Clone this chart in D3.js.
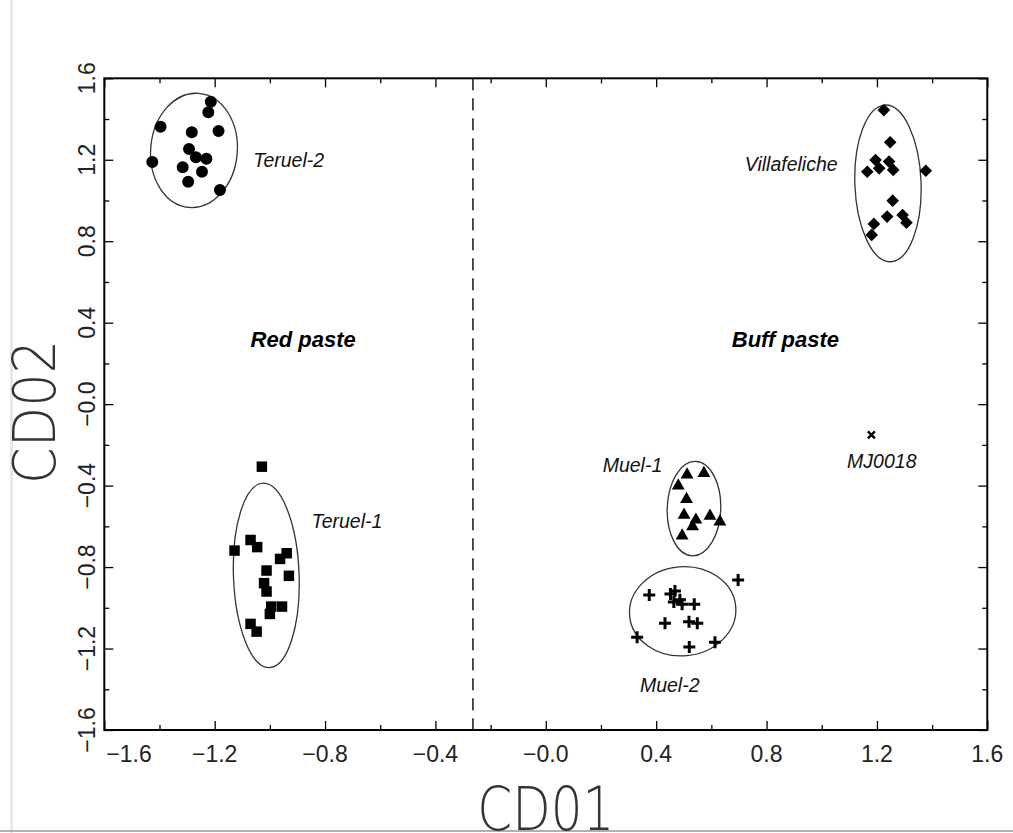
<!DOCTYPE html>
<html>
<head>
<meta charset="utf-8">
<script src="https://cdn.jsdelivr.net/npm/d3@7"></script>
<style>
  html, body { margin: 0; padding: 0; background: #fff; }
  svg { display: block; }
</style>
</head>
<body>
<svg id="chart"></svg>
<script>
// discriminant scores (CD01, CD02)
const teruel2 = [
  [-1.214, 1.485], [-1.223, 1.433], [-1.396, 1.362], [-1.283, 1.335], [-1.186, 1.341],
  [-1.293, 1.253], [-1.268, 1.212], [-1.230, 1.205], [-1.426, 1.189], [-1.316, 1.163],
  [-1.246, 1.141], [-1.296, 1.092], [-1.181, 1.052]
];
const teruel1 = [
  [-1.029, -0.307], [-1.070, -0.667], [-1.046, -0.702], [-1.128, -0.719], [-0.939, -0.732],
  [-0.963, -0.760], [-1.012, -0.817], [-0.931, -0.843], [-1.021, -0.879], [-1.012, -0.920],
  [-0.995, -0.994], [-0.956, -0.994], [-1.000, -1.030], [-1.070, -1.079], [-1.048, -1.117]
];
const muel1 = [
  [0.512, -0.347], [0.573, -0.339], [0.480, -0.401], [0.510, -0.467], [0.501, -0.544],
  [0.544, -0.568], [0.595, -0.549], [0.631, -0.577], [0.532, -0.601], [0.494, -0.646]
];
const muel2 = [
  [0.697, -0.863], [0.375, -0.937], [0.452, -0.932], [0.468, -0.917], [0.464, -0.972],
  [0.486, -0.961], [0.494, -0.982], [0.538, -0.982], [0.432, -1.076], [0.519, -1.068],
  [0.549, -1.076], [0.331, -1.144], [0.520, -1.193], [0.613, -1.169]
];
const villafeliche = [
  [1.225, 1.444], [1.248, 1.286], [1.195, 1.199], [1.208, 1.158], [1.244, 1.191],
  [1.259, 1.150], [1.165, 1.141], [1.377, 1.146], [1.257, 0.999], [1.237, 0.921],
  [1.293, 0.929], [1.307, 0.891], [1.189, 0.885], [1.181, 0.831]
];
const mj0018 = [[1.180, -0.151]];

// group ellipses: centre, semi-axes (data units), tilt in degrees
const ellipseNames = ["Teruel-2", "Teruel-1", "Muel-1", "Muel-2", "Villafeliche"];
const ellipseCx = [-1.275, -1.013, 0.537, 0.496, 1.240];
const ellipseCy = [1.246, -0.841, -0.513, -1.017, 1.084];
const ellipseRx = [0.157, 0.119, 0.097, 0.193, 0.120];
const ellipseRy = [0.281, 0.453, 0.232, 0.219, 0.385];
const ellipseTilt = [5, -2, 2, -5, -2];

const tickValues = [-1.6, -1.2, -0.8, -0.4, 0, 0.4, 0.8, 1.2, 1.6];
const tickLabels = ["\u22121.6", "\u22121.2", "\u22120.8", "\u22120.4", "\u22120.0", "0.4", "0.8", "1.2", "1.6"];
const minorTicks = [-1.4, -1.0, -0.6, -0.2, 0.2, 0.6, 1.0, 1.4];
const divider = -0.264;

// text annotations: [text, x, y] in data units (start anchor, baseline)
const groupLabels = [
  ["Teruel-2", -1.060, 1.165],
  ["Teruel-1", -0.849, -0.608],
  ["Muel-1", 0.206, -0.333],
  ["Muel-2", 0.341, -1.413],
  ["Villafeliche", 0.721, 1.145],
  ["MJ0018", 1.092, -0.313]
];
const pasteLabels = [
  ["Red paste", -1.070, 0.281],
  ["Buff paste", 0.674, 0.281]
];

const W = 1013, H = 833;
const svg = d3.select("#chart").attr("width", W).attr("height", H);

// scan artefacts: page edges
svg.append("rect").attr("x", 10).attr("y", 0).attr("width", 3).attr("height", H).attr("fill", "#e8e8e8");
svg.append("rect").attr("x", 0).attr("y", 830).attr("width", W).attr("height", 2).attr("fill", "#b0b0b0");

const x = d3.scaleLinear().domain([-1.6, 1.6]).range([104.3, 987.3]);
const y = d3.scaleLinear().domain([-1.6, 1.6]).range([730, 78.3]);
const [x0, x1] = x.range();
const [y0, y1] = y.range();

// ticks on all four sides, pointing inward
function ticks(axisFn, values, len, transform) {
  const g = svg.append("g").attr("transform", transform)
    .call(axisFn.tickValues(values).tickSizeInner(-len).tickSizeOuter(0).tickFormat(""));
  g.select(".domain").remove();
  g.selectAll("line").attr("stroke", "#000").attr("stroke-width", 1.3);
}
ticks(d3.axisBottom(x), tickValues, 9, `translate(0,${y0})`);
ticks(d3.axisBottom(x), minorTicks, 5, `translate(0,${y0})`);
ticks(d3.axisTop(x), tickValues, 9, `translate(0,${y1})`);
ticks(d3.axisTop(x), minorTicks, 5, `translate(0,${y1})`);
ticks(d3.axisLeft(y), tickValues, 9, `translate(${x0},0)`);
ticks(d3.axisLeft(y), minorTicks, 5, `translate(${x0},0)`);
ticks(d3.axisRight(y), tickValues, 9, `translate(${x1},0)`);
ticks(d3.axisRight(y), minorTicks, 5, `translate(${x1},0)`);

// frame
svg.append("rect")
  .attr("x", x0).attr("y", y1).attr("width", x1 - x0).attr("height", y0 - y1)
  .attr("fill", "none").attr("stroke", "#000").attr("stroke-width", 2);

const tickFont = "'Liberation Sans', Arial, sans-serif";

// x tick labels (first one starts at the frame corner)
svg.selectAll(".xlab").data(tickValues).enter().append("text")
  .attr("class", "xlab")
  .attr("x", (d, i) => i === 0 ? x0 + 2 : x(d))
  .attr("y", 762)
  .attr("text-anchor", (d, i) => i === 0 ? "start" : "middle")
  .style("font-family", tickFont).style("font-size", "23px").style("fill", "#222")
  .text((d, i) => tickLabels[i]);

// y tick labels, rotated
svg.selectAll(".ylab").data(tickValues).enter().append("text")
  .attr("class", "ylab")
  .attr("transform", d => `translate(95,${y(d)}) rotate(-90)`)
  .attr("text-anchor", "middle")
  .style("font-family", tickFont).style("font-size", "23px").style("fill", "#222")
  .text((d, i) => tickLabels[i]);

// axis titles
const titleFont = "'DejaVu Sans', sans-serif";
svg.append("text")
  .attr("x", (x0 + x1) / 2).attr("y", 830)
  .attr("text-anchor", "middle")
  .attr("textLength", 137).attr("lengthAdjust", "spacingAndGlyphs")
  .style("font-family", titleFont).style("font-weight", 200).style("font-size", "60px").style("fill", "#333")
  .text("CD01");
svg.append("text")
  .attr("transform", `translate(55,412) rotate(-90)`)
  .attr("text-anchor", "middle")
  .attr("textLength", 144).attr("lengthAdjust", "spacingAndGlyphs")
  .style("font-family", titleFont).style("font-weight", 200).style("font-size", "58px").style("fill", "#333")
  .text("CD02");

// dashed divider between the two paste types
svg.append("line")
  .attr("x1", x(divider)).attr("x2", x(divider))
  .attr("y1", y1).attr("y2", y0)
  .attr("stroke", "#222").attr("stroke-width", 1.6).attr("stroke-dasharray", "12,8");

// ellipses
svg.selectAll(".ell").data(ellipseNames).enter().append("ellipse")
  .attr("class", "ell")
  .attr("transform", (d, i) => `translate(${x(ellipseCx[i])},${y(ellipseCy[i])}) rotate(${ellipseTilt[i]})`)
  .attr("rx", (d, i) => x(ellipseRx[i]) - x(0))
  .attr("ry", (d, i) => y(0) - y(ellipseRy[i]))
  .attr("fill", "none").attr("stroke", "#333").attr("stroke-width", 1.3);

// markers
function plotSymbols(data, type, size, rot) {
  svg.append("g").selectAll("path").data(data).enter().append("path")
    .attr("transform", d => `translate(${x(d[0])},${y(d[1])}) rotate(${rot})`)
    .attr("d", d3.symbol(type, size))
    .attr("fill", "#000");
}
plotSymbols(teruel2, d3.symbolCircle, 113, 0);
plotSymbols(teruel1, d3.symbolSquare, 110, 0);
plotSymbols(muel1, d3.symbolTriangle, 72, 0);
plotSymbols(villafeliche, d3.symbolSquare, 80, 45);

svg.append("g").selectAll("path").data(muel2).enter().append("path")
  .attr("transform", d => `translate(${x(d[0])},${y(d[1])})`)
  .attr("d", "M-6,0H6M0,-6V6")
  .attr("stroke", "#000").attr("stroke-width", 3).attr("fill", "none");

svg.append("g").selectAll("path").data(mj0018).enter().append("path")
  .attr("transform", d => `translate(${x(d[0])},${y(d[1])})`)
  .attr("d", "M-3.5,-3.5L3.5,3.5M-3.5,3.5L3.5,-3.5")
  .attr("stroke", "#000").attr("stroke-width", 2.4).attr("fill", "none");

// labels
svg.selectAll(".glab").data(groupLabels).enter().append("text")
  .attr("class", "glab")
  .attr("x", d => x(d[1])).attr("y", d => y(d[2]))
  .style("font-family", tickFont).style("font-style", "italic").style("font-size", "19.5px").style("fill", "#111")
  .text(d => d[0]);

svg.selectAll(".plab").data(pasteLabels).enter().append("text")
  .attr("class", "plab")
  .attr("x", d => x(d[1])).attr("y", d => y(d[2]))
  .style("font-family", tickFont).style("font-style", "italic").style("font-weight", "bold")
  .style("font-size", "22px").style("fill", "#000")
  .text(d => d[0]);
</script>
</body>
</html>
